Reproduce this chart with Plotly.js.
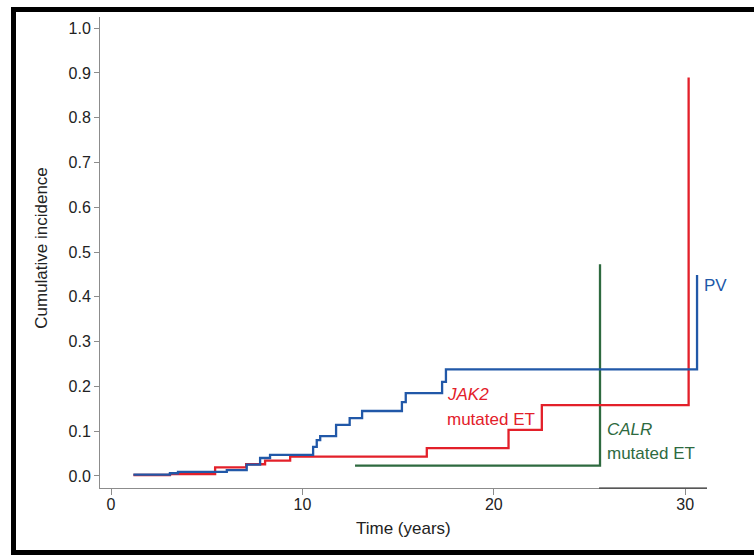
<!DOCTYPE html>
<html>
<head>
<meta charset="utf-8">
<script src="https://cdn.plot.ly/plotly-3.0.1.min.js"></script>
<style>
  html, body { margin: 0; padding: 0; background: #fff; }
  #wrap { position: relative; width: 754px; height: 555px; overflow: hidden; }
  #chart { position: absolute; left: 0; top: 0; width: 754px; height: 555px; }
  #frame { position: absolute; left: 11px; top: 7px; width: 760px; height: 538px;
           border-top: 5px solid #000; border-left: 5px solid #000; border-bottom: 5px solid #000;
           pointer-events: none; }
</style>
</head>
<body>
<div id="wrap">
  <div id="chart"></div>
  <div id="frame"></div>
</div>
<script>
// ---- data ----
const pvTime = [1.17, 3.08, 3.50, 6.05, 7.09, 7.79, 8.31, 10.56, 10.75, 10.93, 11.76, 12.47, 13.12, 15.20, 15.40, 17.30, 17.50, 30.62];
const pvInc  = [0.003, 0.006, 0.009, 0.013, 0.025, 0.040, 0.047, 0.065, 0.080, 0.089, 0.114, 0.129, 0.145, 0.165, 0.185, 0.210, 0.238, 0.449];

const jak2Time = [1.17, 3.08, 5.44, 7.06, 8.05, 9.36, 16.50, 20.77, 22.51, 30.18];
const jak2Inc  = [0.002, 0.004, 0.019, 0.026, 0.034, 0.043, 0.062, 0.103, 0.158, 0.890];

const calrTime = [12.75, 25.55];
const calrInc  = [0.023, 0.473];

const xTicks = [0, 10, 20, 30];
const yTicks = [0, 0.1, 0.2, 0.3, 0.4, 0.5, 0.6, 0.7, 0.8, 0.9, 1.0];

const xTitle = 'Time (years)';
const yTitle = 'Cumulative incidence';

const colPV = '#2158a8', colJAK = '#e3202a', colCALR = '#2e6a3f';
const FONT = '"Liberation Sans", Arial, Helvetica, sans-serif';

const traces = [
  { x: calrTime, y: calrInc, mode: 'lines', line: { shape: 'hv', color: colCALR, width: 2.3 } },
  { x: jak2Time, y: jak2Inc, mode: 'lines', line: { shape: 'hv', color: colJAK, width: 2.3 } },
  { x: pvTime,   y: pvInc,   mode: 'lines', line: { shape: 'hv', color: colPV,  width: 2.3 } }
];

const axisCommon = {
  showgrid: false, zeroline: false, showline: true, linecolor: '#8c8c8c', linewidth: 1,
  ticks: 'outside', tickcolor: '#8c8c8c', tickwidth: 1,
  tickfont: { family: FONT, size: 16, color: '#222' }
};

const layout = {
  width: 754, height: 555,
  margin: { l: 100, r: 47, t: 17, b: 67 },
  paper_bgcolor: '#fff', plot_bgcolor: '#fff',
  showlegend: false,
  font: { family: FONT, color: '#222' },
  xaxis: Object.assign({}, axisCommon, {
    range: [-0.575, 31.14], tickmode: 'array', tickvals: xTicks, ticklen: 6,
    ticklabelstandoff: -4
  }),
  yaxis: Object.assign({}, axisCommon, {
    range: [-0.027, 1.025], tickmode: 'array', tickvals: yTicks, tickformat: '.1f', ticklen: 5
  }),
  shapes: [
    { type: 'line', xref: 'x', yref: 'paper', x0: 25.5, x1: 31.14, y0: 0, y1: 0,
      line: { color: '#222', width: 1 } }
  ],
  annotations: [
    { x: 0.5, y: -0.085, xref: 'paper', yref: 'paper', xanchor: 'center', yanchor: 'middle', showarrow: false,
      text: xTitle, font: { family: FONT, size: 17, color: '#222' } },
    { x: -0.0956, y: 0.51, xref: 'paper', yref: 'paper', xanchor: 'center', yanchor: 'middle', showarrow: false,
      textangle: -90, text: yTitle, font: { family: FONT, size: 17, color: '#222' } },
    { x: 17.45, y: 0.181, xref: 'x', yref: 'y', xanchor: 'left', yanchor: 'middle', showarrow: false,
      text: '<i>JAK2</i>', font: { family: FONT, size: 17, color: colJAK } },
    { x: 17.45, y: 0.127, xref: 'x', yref: 'y', xanchor: 'left', yanchor: 'middle', showarrow: false,
      text: 'mutated ET', font: { family: FONT, size: 17, color: colJAK } },
    { x: 25.83, y: 0.103, xref: 'x', yref: 'y', xanchor: 'left', yanchor: 'middle', showarrow: false,
      text: '<i>CALR</i>', font: { family: FONT, size: 17, color: colCALR } },
    { x: 25.83, y: 0.049, xref: 'x', yref: 'y', xanchor: 'left', yanchor: 'middle', showarrow: false,
      text: 'mutated ET', font: { family: FONT, size: 17, color: colCALR } },
    { x: 30.9, y: 0.426, xref: 'x', yref: 'y', xanchor: 'left', yanchor: 'middle', showarrow: false,
      text: 'PV', font: { family: FONT, size: 17, color: colPV } }
  ]
};

Plotly.newPlot('chart', traces, layout, { staticPlot: true, displayModeBar: false });
</script>
</body>
</html>
